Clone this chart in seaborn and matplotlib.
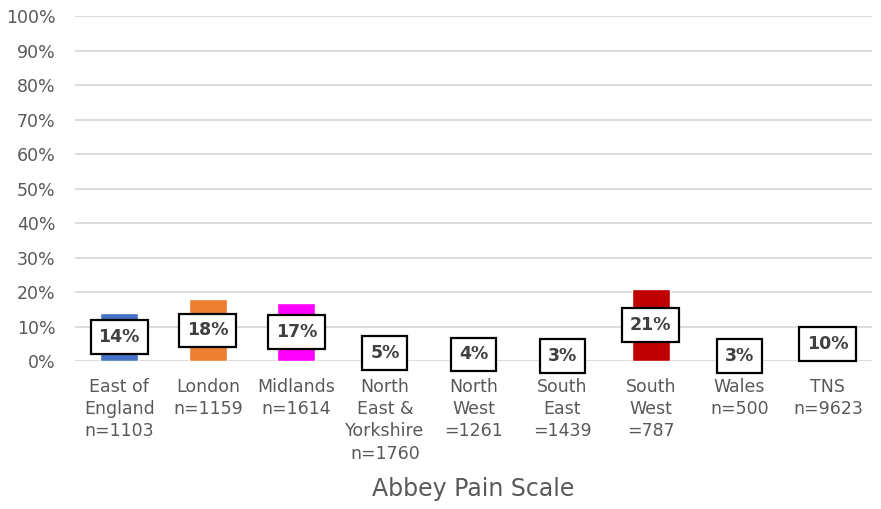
import numpy as np
import pandas as pd
import matplotlib
matplotlib.use("Agg")
import matplotlib.pyplot as plt
import seaborn as sns

regions = ["East of\nEngland\nn=1103", "London\nn=1159", "Midlands\nn=1614",
           "North\nEast &\nYorkshire\nn=1760", "North\nWest\n=1261", "South\nEast\n=1439",
           "South\nWest\n=787", "Wales\nn=500", "TNS\nn=9623"]
values = [14, 18, 17, 5, 4, 3, 21, 3, 10]
colors = ["#4472C4", "#ED7D31", "#FF00FF", "#70AD47", "#FFC000",
          "#5B9BD5", "#C00000", "#7030A0", "#1F5C6E"]

sns.set_style("white")
plt.rcParams["font.family"] = ["DejaVu Sans"]

df = pd.DataFrame({"region": regions, "value": values})

fig, ax = plt.subplots(figsize=(8.81, 5.09), dpi=100)
sns.barplot(data=df, x="region", y="value", hue="region", palette=colors,
            legend=False, width=0.43, saturation=1, ax=ax, zorder=2)

ax.set_ylim(0, 100)
ax.set_yticks(np.arange(0, 101, 10))
ax.set_yticklabels([f"{t}%" for t in range(0, 101, 10)])
ax.yaxis.grid(True, color="#D9D9D9", linewidth=1.3, zorder=0)
ax.set_axisbelow(True)
sns.despine(left=True, bottom=True)
ax.tick_params(axis="both", length=0, labelsize=12.5, colors="#595959")
ax.tick_params(axis="y", pad=14)
ax.tick_params(axis="x", pad=12)
for lab in ax.get_xticklabels():
    lab.set_linespacing(1.3)

ax.set_ylabel("")
ax.set_xlabel("Abbey Pain Scale", fontsize=17, color="#595959", labelpad=10)

for i, v in enumerate(values):
    ax.text(i, v / 2, f"{v}%", ha="center", va="center", fontsize=12.5,
            fontweight="bold", color="#404040", zorder=5,
            bbox=dict(boxstyle="square,pad=0.45", facecolor="white",
                      edgecolor="black", linewidth=1.6))

plt.subplots_adjust(left=0.085, right=0.99, top=0.968, bottom=0.29)
fig.savefig("out.png", dpi=100)
